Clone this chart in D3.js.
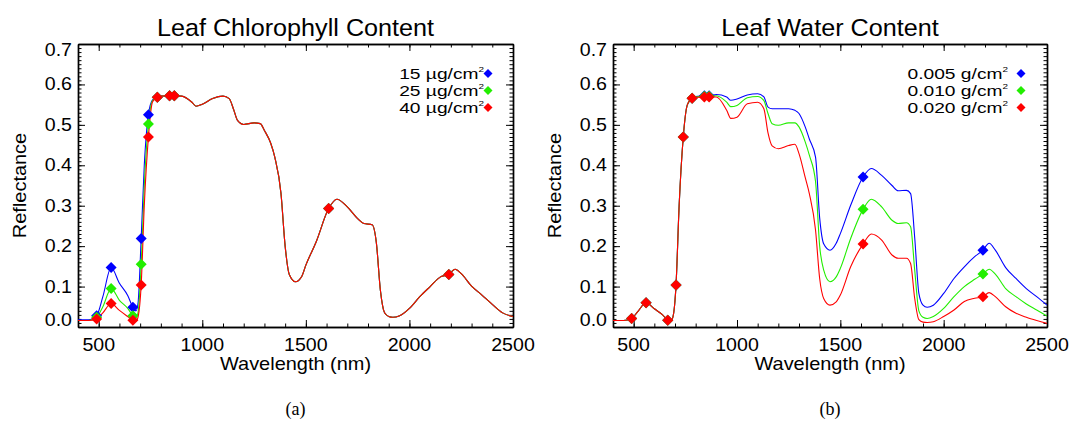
<!DOCTYPE html>
<html>
<head>
<meta charset="utf-8">
<script src="https://cdn.jsdelivr.net/npm/d3@7"></script>
<style>
body { margin: 0; background: #fff; }
svg { display: block; }
text { font-family: "Liberation Sans", Arial, Helvetica, sans-serif; fill: #000; }
</style>
</head>
<body>
<svg id="chart" width="1070" height="423"></svg>
<script>
// wavelengths (nm) shared by every spectrum
const wl = [400, 450, 490, 520, 560, 600, 640, 665, 680, 690, 705, 720, 740, 760, 783, 800, 842, 865,
  900, 950, 970, 1000, 1050, 1100, 1130, 1150, 1170, 1200, 1250, 1280, 1300, 1330, 1350, 1380, 1400,
  1420, 1450, 1480, 1500, 1550, 1610, 1650, 1700, 1750, 1780, 1820, 1840, 1860, 1880, 1900, 1920,
  1950, 2000, 2050, 2100, 2150, 2190, 2220, 2250, 2300, 2350, 2400, 2450, 2500];

// sensor bands where the diamonds sit
const bands = [490, 560, 665, 705, 740, 783, 842, 865, 1610, 2190];

// (a) chlorophyll, reflectance
const chl15 = [0.018, 0.018, 0.028, 0.075, 0.147, 0.108, 0.078, 0.049, 0.040, 0.060, 0.219, 0.40, 0.525, 0.562, 0.568, 0.571, 0.572, 0.572,
  0.571, 0.556, 0.546, 0.551, 0.565, 0.571, 0.565, 0.540, 0.511, 0.501, 0.505, 0.503, 0.486, 0.455, 0.420, 0.330, 0.200,
  0.130, 0.112, 0.125, 0.153, 0.211, 0.293, 0.316, 0.297, 0.268, 0.256, 0.253, 0.210, 0.090, 0.035, 0.026, 0.024,
  0.027, 0.046, 0.075, 0.100, 0.124, 0.130, 0.143, 0.132, 0.101, 0.079, 0.056, 0.035, 0.026];
const chl25 = [0.016, 0.016, 0.024, 0.050, 0.095, 0.066, 0.046, 0.028, 0.022, 0.036, 0.155, 0.35, 0.502, 0.560, 0.568, 0.571, 0.572, 0.572,
  0.571, 0.556, 0.546, 0.551, 0.565, 0.571, 0.565, 0.540, 0.511, 0.501, 0.505, 0.503, 0.486, 0.455, 0.420, 0.330, 0.200,
  0.130, 0.112, 0.125, 0.153, 0.211, 0.293, 0.316, 0.297, 0.268, 0.256, 0.253, 0.210, 0.090, 0.035, 0.026, 0.024,
  0.027, 0.046, 0.075, 0.100, 0.124, 0.130, 0.143, 0.132, 0.101, 0.079, 0.056, 0.035, 0.026];
const chl40 = [0.016, 0.016, 0.020, 0.035, 0.058, 0.041, 0.026, 0.017, 0.014, 0.025, 0.104, 0.30, 0.470, 0.557, 0.568, 0.571, 0.572, 0.572,
  0.571, 0.556, 0.546, 0.551, 0.565, 0.571, 0.565, 0.540, 0.511, 0.501, 0.505, 0.503, 0.486, 0.455, 0.420, 0.330, 0.200,
  0.130, 0.112, 0.125, 0.153, 0.211, 0.293, 0.316, 0.297, 0.268, 0.256, 0.253, 0.210, 0.090, 0.035, 0.026, 0.024,
  0.027, 0.046, 0.075, 0.100, 0.124, 0.130, 0.143, 0.132, 0.101, 0.079, 0.056, 0.035, 0.026];
const chlLabels = ["15 \u00b5g/cm", "25 \u00b5g/cm", "40 \u00b5g/cm"];

// (b) water, reflectance
const cw005 = [0.016, 0.016, 0.021, 0.038, 0.060, 0.045, 0.030, 0.017, 0.015, 0.025, 0.104, 0.30, 0.470, 0.550, 0.566, 0.570, 0.572, 0.572,
  0.575, 0.569, 0.561, 0.564, 0.574, 0.577, 0.569, 0.544, 0.540, 0.540, 0.540, 0.536, 0.528, 0.495, 0.465, 0.420, 0.270,
  0.205, 0.190, 0.207, 0.231, 0.301, 0.371, 0.392, 0.375, 0.350, 0.337, 0.338, 0.330, 0.220, 0.083, 0.054, 0.049,
  0.054, 0.083, 0.120, 0.149, 0.174, 0.190, 0.207, 0.190, 0.147, 0.120, 0.095, 0.075, 0.054];
const cw010 = [0.016, 0.016, 0.021, 0.038, 0.060, 0.045, 0.030, 0.017, 0.015, 0.025, 0.104, 0.30, 0.470, 0.550, 0.566, 0.569, 0.571, 0.571,
  0.572, 0.556, 0.545, 0.548, 0.567, 0.570, 0.560, 0.528, 0.503, 0.499, 0.505, 0.505, 0.495, 0.458, 0.425, 0.360, 0.200,
  0.140, 0.112, 0.124, 0.145, 0.219, 0.291, 0.316, 0.297, 0.264, 0.256, 0.258, 0.248, 0.140, 0.040, 0.024, 0.021,
  0.026, 0.046, 0.075, 0.100, 0.118, 0.131, 0.143, 0.131, 0.095, 0.075, 0.057, 0.042, 0.027];
const cw020 = [0.016, 0.016, 0.021, 0.038, 0.060, 0.045, 0.030, 0.017, 0.015, 0.025, 0.104, 0.30, 0.470, 0.550, 0.566, 0.568, 0.569, 0.569,
  0.569, 0.536, 0.516, 0.519, 0.552, 0.556, 0.540, 0.480, 0.448, 0.441, 0.449, 0.452, 0.429, 0.370, 0.330, 0.240, 0.120,
  0.070, 0.054, 0.062, 0.079, 0.149, 0.205, 0.230, 0.215, 0.178, 0.170, 0.170, 0.157, 0.070, 0.018, 0.012, 0.011,
  0.013, 0.026, 0.042, 0.063, 0.071, 0.075, 0.085, 0.075, 0.050, 0.034, 0.024, 0.016, 0.009];
const cwLabels = ["0.005 g/cm", "0.010 g/cm", "0.020 g/cm"];

const colors = ["#0000ff", "#22ee00", "#ff0000"];
const xTicks = [500, 1000, 1500, 2000, 2500];
const yTicks = [0, 0.1, 0.2, 0.3, 0.4, 0.5, 0.6, 0.7];

const svg = d3.select("#chart");

// text drawn a little wider than the font, like the original export
function txt(g, x, y, s, size, anchor, sx, rot) {
  return g.append("text")
    .attr("transform", `translate(${x},${y})` + (rot ? ` rotate(${rot})` : "") + ` scale(${sx},1)`)
    .attr("text-anchor", anchor)
    .style("font-size", size + "px")
    .text(s);
}

function diamond(r) {
  return `M0,${-r}L${r},0L0,${r}L${-r},0Z`;
}

function drawPanel(p) {
  const top = 44, bottom = 327;
  const x = d3.scaleLinear().domain([400, 2500]).range([p.x0, p.x1]);
  const y = d3.scaleLinear().domain([0, 0.7]).range([bottom, top]);
  const g = svg.append("g");
  const mid = (p.x0 + p.x1) / 2;

  // ticks on every side, pointing in
  const minorX = d3.range(400, 2501, 100), minorY = d3.range(0, 0.7001, 0.01);
  g.append("g").attr("transform", `translate(0,${bottom})`)
    .call(d3.axisBottom(x).tickValues(minorX).tickSize(-3.5).tickSizeOuter(0).tickFormat(""));
  g.append("g").attr("transform", `translate(0,${bottom})`)
    .call(d3.axisBottom(x).tickValues(xTicks).tickSize(-7).tickSizeOuter(0).tickFormat(""));
  g.append("g").attr("transform", `translate(0,${top})`)
    .call(d3.axisTop(x).tickValues(minorX).tickSize(-3.5).tickSizeOuter(0).tickFormat(""));
  g.append("g").attr("transform", `translate(0,${top})`)
    .call(d3.axisTop(x).tickValues(xTicks).tickSize(-7).tickSizeOuter(0).tickFormat(""));
  g.append("g").attr("transform", `translate(${p.x0},0)`)
    .call(d3.axisLeft(y).tickValues(minorY).tickSize(-3.5).tickSizeOuter(0).tickFormat(""));
  g.append("g").attr("transform", `translate(${p.x0},0)`)
    .call(d3.axisLeft(y).tickValues(yTicks).tickSize(-7).tickSizeOuter(0).tickFormat(""));
  g.append("g").attr("transform", `translate(${p.x1},0)`)
    .call(d3.axisRight(y).tickValues(minorY).tickSize(-3.5).tickSizeOuter(0).tickFormat(""));
  g.append("g").attr("transform", `translate(${p.x1},0)`)
    .call(d3.axisRight(y).tickValues(yTicks).tickSize(-7).tickSizeOuter(0).tickFormat(""));
  g.selectAll(".domain").attr("stroke", "#000").attr("stroke-width", 1.4);
  g.selectAll(".tick line").attr("stroke", "#000").attr("stroke-width", 1);

  // tick labels
  xTicks.forEach(v => txt(g, x(v), 351, String(v), 17.5, "middle", 1.12));
  yTicks.forEach(v => {
    let yy = y(v) + 6;
    if (v === 0) yy = bottom - 1;
    if (v === 0.7) yy = top + 12;
    txt(g, p.x0 - 6, yy, v.toFixed(1), 17.5, "end", 1.12);
  });

  txt(g, mid, 36, p.title, 24, "middle", 1.05);
  txt(g, mid, 370, "Wavelength (nm)", 17.5, "middle", 1.14);
  txt(g, p.x0 - 52, (top + bottom) / 2, "Reflectance", 17.5, "middle", 1.14, -90);
  g.append("text").attr("x", mid).attr("y", 415).attr("text-anchor", "middle")
    .style("font-family", "'Liberation Serif', 'Times New Roman', serif").style("font-size", "18px")
    .text(p.caption);

  // spectra
  const clipId = "clip" + p.x0;
  svg.append("clipPath").attr("id", clipId).append("rect")
    .attr("x", p.x0).attr("y", top).attr("width", p.x1 - p.x0).attr("height", bottom - top);
  const line = d3.line().x((d, i) => x(wl[i])).y(d => y(d)).curve(d3.curveMonotoneX);
  const lines = g.append("g").attr("clip-path", `url(#${clipId})`);
  p.series.forEach((s, k) => {
    lines.append("path").attr("d", line(s)).attr("fill", "none")
      .attr("stroke", colors[k]).attr("stroke-width", 1.1);
  });
  p.series.forEach((s, k) => {
    g.selectAll(null).data(bands).enter().append("path")
      .attr("d", diamond(5.5))
      .attr("transform", b => `translate(${x(b)},${y(s[wl.indexOf(b)])})`)
      .attr("fill", colors[k]);
  });

  // legend
  p.labels.forEach((lab, k) => {
    const ly = 78.5 + k * 17;
    const t = txt(g, p.legX, ly, lab, 15.5, "end", 1.24);
    t.append("tspan").attr("dy", -7).style("font-size", "8px").text("2");
    g.append("path").attr("d", diamond(4.5))
      .attr("transform", `translate(${p.legX + p.legGap},${ly - 5})`)
      .attr("fill", colors[k]);
  });
}

drawPanel({ x0: 78, x1: 513, title: "Leaf Chlorophyll Content", caption: "(a)",
  series: [chl15, chl25, chl40], labels: chlLabels, legX: 484, legGap: 4 });
drawPanel({ x0: 613, x1: 1047, title: "Leaf Water Content", caption: "(b)",
  series: [cw005, cw010, cw020], labels: cwLabels, legX: 1008, legGap: 13 });
</script>
</body>
</html>
